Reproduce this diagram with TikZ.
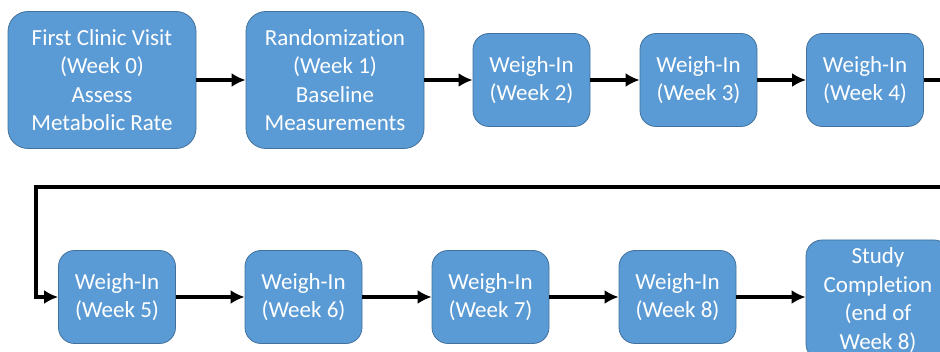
\documentclass[tikz,border=0pt]{standalone}
\usepackage{fontspec}
\setmainfont[Ligatures=NoCommon]{Carlito}
\usetikzlibrary{arrows.meta}
\definecolor{boxblue}{HTML}{5B9BD5}
\definecolor{boxedge}{HTML}{41719C}
\begin{document}
\begin{tikzpicture}[x=1pt,y=-1pt,
  visit/.style={rectangle,rounded corners=16pt,fill=boxblue,draw=boxedge,line width=0.8pt,
    text=white,align=center,inner sep=0pt,font=\fontsize{23}{28.5}\selectfont},
  bigvisit/.style={visit,minimum height=137pt,rounded corners=20pt},
  weigh/.style={visit,minimum width=117pt,minimum height=93pt},
  flow/.style={line width=4pt,-{Latex[length=14pt,width=14pt]}}]
\useasboundingbox (0,0) rectangle (940,352);
% first row
\node[bigvisit,minimum width=188pt] (clinic) at (102,80) {First Clinic Visit\\(Week 0)\\Assess\\Metabolic Rate};
\node[bigvisit,minimum width=178pt] (random) at (335,80) {Randomization\\(Week 1)\\Baseline\\Measurements};
\node[weigh] (wk2) at (531.5,80) {Weigh-In\\(Week 2)};
\node[weigh] (wk3) at (698.5,80) {Weigh-In\\(Week 3)};
\node[weigh] (wk4) at (865,80) {Weigh-In\\(Week 4)};
% second row
\node[weigh] (wk5) at (117,297) {Weigh-In\\(Week 5)};
\node[weigh] (wk6) at (303.5,297) {Weigh-In\\(Week 6)};
\node[weigh] (wk7) at (490.5,297) {Weigh-In\\(Week 7)};
\node[weigh] (wk8) at (677.5,297) {Weigh-In\\(Week 8)};
\node[visit,minimum width=144pt,minimum height=120pt] (done) at (878,300) {Study\\Completion\\(end of\\Week 8)};
% connectors
\coordinate (turnR) at (962,187);
\coordinate (turnL) at (36,187);
\draw[flow] (clinic) -- (random);
\draw[flow] (random) -- (wk2);
\draw[flow] (wk2) -- (wk3);
\draw[flow] (wk3) -- (wk4);
\draw[flow] (wk4.east) -| (turnR) -- (turnL) |- (wk5.west);
\draw[flow] (wk5) -- (wk6);
\draw[flow] (wk6) -- (wk7);
\draw[flow] (wk7) -- (wk8);
\draw[flow] (wk8) -- (done.west |- wk8);
\end{tikzpicture}
\end{document}
